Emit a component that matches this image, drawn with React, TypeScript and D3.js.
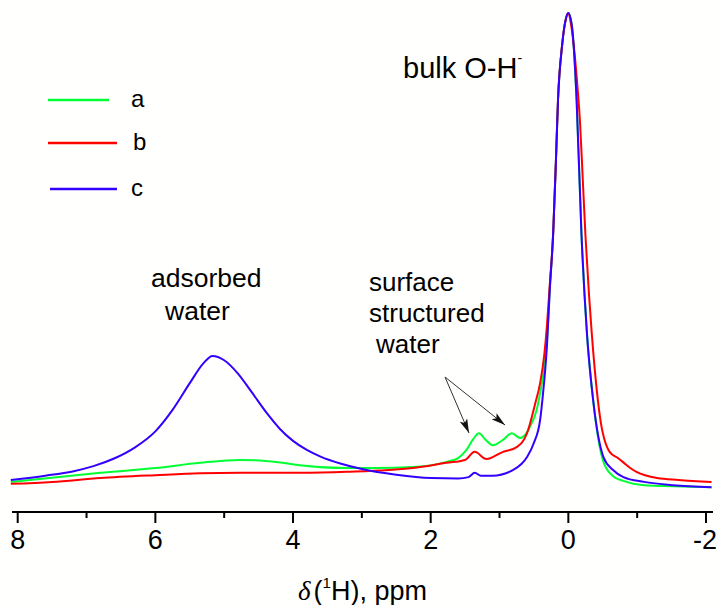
import React from "react";
import * as d3 from "d3";

// chemical shift (ppm) and normalized intensity (0-100)
const ppmA = [8.1, 6.8, 6.0, 5.35, 4.77, 4.4, 4.15, 3.9, 3.22, 2.8, 2.26, 1.77, 1.6, 1.48, 1.38, 1.3, 1.2, 1.1, 0.95, 0.82, 0.7, 0.62, 0.56, 0.46, 0.41, 0.37, 0.31, 0.27, 0.22, 0.18, 0.15, 0.09, 0.04, 0, -0.05, -0.12, -0.19, -0.27, -0.36, -0.51, -0.65, -0.8, -1.1, -1.52, -2.08];
const intA = [1.7, 3.6, 4.6, 5.7, 6.3, 6.1, 5.7, 5.2, 4.6, 4.6, 4.8, 5.9, 6.7, 8.4, 10.7, 11.9, 10.5, 9.4, 10.5, 11.9, 10.9, 11.7, 13.2, 16.8, 20.3, 23.7, 31.4, 41.9, 53.9, 69.2, 81.8, 93.3, 98.5, 100, 97.5, 81.8, 53.9, 32.9, 18.9, 5.9, 2.9, 1.9, 1.0, 0.8, 0.6];

const ppmB = [8.1, 7.5, 6.8, 6.0, 5.35, 4.77, 3.9, 3.22, 2.26, 1.77, 1.5, 1.36, 1.19, 0.95, 0.75, 0.6, 0.48, 0.41, 0.35, 0.31, 0.27, 0.22, 0.18, 0.15, 0.09, 0.04, 0, -0.04, -0.08, -0.13, -0.17, -0.21, -0.25, -0.3, -0.34, -0.46, -0.6, -0.72, -0.79, -0.9, -0.99, -1.29, -1.6, -2.08];
const intB = [1.3, 1.7, 2.5, 3.1, 3.5, 3.6, 3.6, 3.8, 4.6, 5.7, 6.3, 8.0, 6.5, 8.0, 9.0, 11.9, 18.2, 22.4, 28.3, 34.6, 43.0, 53.9, 69.2, 81.8, 93.3, 98.5, 100, 97.5, 93, 85, 77, 65, 53, 41, 32.9, 15.3, 8.0, 6.7, 5.9, 4.6, 3.8, 2.5, 2.1, 1.7];

const ppmC = [8.1, 7.6, 7.2, 6.9, 6.6, 6.3, 6.0, 5.75, 5.5, 5.3, 5.17, 5.0, 4.8, 4.6, 4.38, 4.19, 4.0, 3.8, 3.6, 3.3, 3.0, 2.5, 2.0, 1.6, 1.45, 1.36, 1.27, 1.1, 0.8, 0.6, 0.5, 0.41, 0.37, 0.31, 0.27, 0.22, 0.18, 0.15, 0.09, 0.04, 0, -0.05, -0.12, -0.19, -0.27, -0.36, -0.51, -0.65, -0.8, -1.1, -1.52, -2.08];
const intC = [2.1, 3.0, 3.9, 5.0, 6.6, 8.9, 12.3, 16.8, 22.4, 26.6, 28.1, 27.2, 24.4, 20.5, 16.1, 12.8, 10.3, 8.4, 7.0, 5.5, 4.4, 3.2, 2.5, 2.4, 2.7, 3.6, 3.0, 3.0, 4.2, 6.9, 9.9, 14.7, 19.9, 30.4, 41.9, 53.9, 69.2, 81.8, 93.3, 98.5, 100, 97.5, 81.8, 53.9, 32.9, 18.9, 6.9, 4.2, 2.7, 1.7, 1.0, 0.6];

const seriesNames = ["a", "b", "c"];
const seriesColors = ["#00ff33", "#ff0000", "#3300ff"];
const majorTicks = [8, 6, 4, 2, 0, -2];
const minorTicks = [7, 5, 3, 1, -1];

const W = 717;
const H = 605;

export default function App() {
  const x = d3.scaleLinear().domain([8, -2]).range([17.7, 706]);
  const y = d3.scaleLinear().domain([0, 100]).range([490, 13]);
  const line = d3
    .line<[number, number]>()
    .x((d) => x(d[0]))
    .y((d) => y(d[1]))
    .curve(d3.curveMonotoneX);

  const series = [
    ppmA.map((p, i) => [p, intA[i]] as [number, number]),
    ppmB.map((p, i) => [p, intB[i]] as [number, number]),
    ppmC.map((p, i) => [p, intC[i]] as [number, number]),
  ];

  const axisY = 512;
  const font = "'Liberation Sans', Arial, sans-serif";
  const legendY = [100, 143, 189];
  const legendX1 = [48, 48, 50];
  const legendX2 = [109, 117, 117];
  const legendTX = [131, 133, 131];

  return (
    <svg
      width={W}
      height={H}
      style={{ position: "absolute", left: 0, top: 0, background: "#fffffd" }}
      fontFamily={font}
    >
      <defs>
        <marker id="ah" viewBox="0 0 14 8" refX="14" refY="4" markerWidth="14" markerHeight="8" markerUnits="userSpaceOnUse" orient="auto">
          <path d="M0,0 L14,4 L0,8 L3,4 Z" fill="#111" />
        </marker>
      </defs>
      {/* curves */}
      {series.map((s, i) => (
        <path key={i} d={line(s) || ""} fill="none" stroke={seriesColors[i]} strokeWidth={2} strokeLinejoin="round" />
      ))}
      {/* axis */}
      <line x1={12} x2={713} y1={axisY} y2={axisY} stroke="#000" strokeWidth={2} />
      {majorTicks.map((t) => (
        <g key={t}>
          <line x1={x(t)} x2={x(t)} y1={axisY} y2={axisY + 11} stroke="#000" strokeWidth={2} />
          <text x={x(t) - (t < 0 ? 1 : 0)} y={549} textAnchor="middle" fontSize={27} fill="#000">
            {t}
          </text>
        </g>
      ))}
      {minorTicks.map((t) => (
        <line key={t} x1={x(t)} x2={x(t)} y1={axisY} y2={axisY + 6} stroke="#000" strokeWidth={2} />
      ))}
      {/* x label */}
      <text x={298} y={600} fontSize={27} fill="#000">
        <tspan fontFamily="'Liberation Serif', serif" fontStyle="italic">δ</tspan>
        <tspan dx={3}>(</tspan>
        <tspan fontSize={15} dy={-12}>1</tspan>
        <tspan dy={12}>H), ppm</tspan>
      </text>
      {/* legend */}
      {seriesNames.map((n, i) => (
        <g key={n}>
          <line x1={legendX1[i]} x2={legendX2[i]} y1={legendY[i]} y2={legendY[i]} stroke={seriesColors[i]} strokeWidth={2.5} />
          <text x={legendTX[i]} y={legendY[i] + 7} fontSize={24} fill="#000">
            {n}
          </text>
        </g>
      ))}
      {/* annotations */}
      <text x={403} y={78} fontSize={29} fill="#000">
        bulk O-H
        <tspan fontSize={14} dy={-15}>-</tspan>
      </text>
      <text x={151} y={287} fontSize={26.5} fill="#000">adsorbed</text>
      <text x={165} y={320} fontSize={26.5} fill="#000">water</text>
      <text x={369} y={291} fontSize={26} fill="#000">surface</text>
      <text x={369} y={322} fontSize={26} fill="#000">structured</text>
      <text x={376} y={353} fontSize={26} fill="#000">water</text>
      <line x1={445} y1={377} x2={469} y2={433} stroke="#333" strokeWidth={1} markerEnd="url(#ah)" />
      <line x1={445} y1={377} x2={505} y2={425} stroke="#333" strokeWidth={1} markerEnd="url(#ah)" />
    </svg>
  );
}
